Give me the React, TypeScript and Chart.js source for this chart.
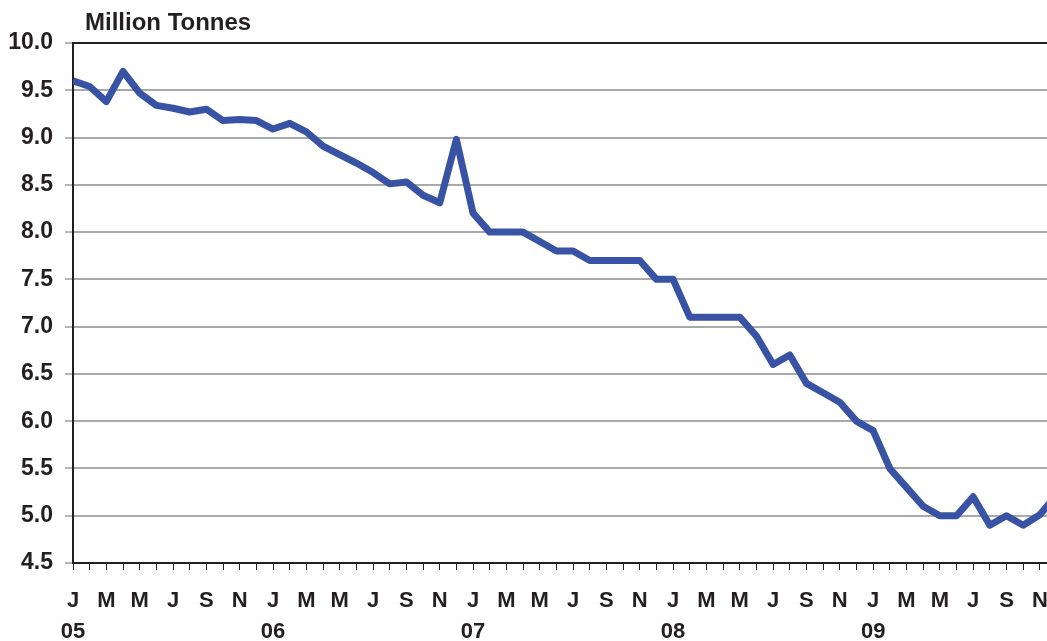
import React, { useEffect, useRef } from "react";
import { Chart, registerables } from "chart.js";

Chart.register(...registerables);

const monthLetters = ["J", "F", "M", "A", "M", "J", "J", "A", "S", "O", "N", "D"];
const yearLabels = ["05", "06", "07", "08", "09"];
const titleText = "Million Tonnes";

// Monthly values, Jan 2005 .. Dec 2009
const values2005 = [9.6, 9.54, 9.38, 9.7, 9.47, 9.34, 9.31, 9.27, 9.3, 9.18, 9.19, 9.18];
const values2006 = [9.09, 9.15, 9.06, 8.91, 8.82, 8.73, 8.63, 8.51, 8.53, 8.39, 8.31, 8.98];
const values2007 = [8.2, 8.0, 8.0, 8.0, 7.9, 7.8, 7.8, 7.7, 7.7, 7.7, 7.7, 7.5];
const values2008 = [7.5, 7.1, 7.1, 7.1, 7.1, 6.9, 6.6, 6.7, 6.4, 6.3, 6.2, 6.0];
const values2009 = [5.9, 5.5, 5.3, 5.1, 5.0, 5.0, 5.2, 4.9, 5.0, 4.9, 5.01, 5.22];

const yTicks = [4.5, 5.0, 5.5, 6.0, 6.5, 7.0, 7.5, 8.0, 8.5, 9.0, 9.5, 10.0];

const W = 1047;
const H = 641;
const FONT = '"Liberation Sans", Arial, Helvetica, sans-serif';
const TEXT = "#231f20";

export default function App() {
  const ref = useRef<HTMLCanvasElement | null>(null);

  useEffect(() => {
    const all = [...values2005, ...values2006, ...values2007, ...values2008, ...values2009];
    const data = all.map((v, i) => ({ x: i, y: v }));

    const titlePlugin = {
      id: "titleText",
      afterDraw(chart: any) {
        const ctx = chart.ctx;
        ctx.save();
        ctx.font = `bold 24px ${FONT}`;
        ctx.fillStyle = TEXT;
        ctx.textAlign = "left";
        ctx.textBaseline = "alphabetic";
        ctx.fillText(titleText, 85, 30);
        ctx.restore();
      },
    };

    const chart = new Chart(ref.current as HTMLCanvasElement, {
      type: "line",
      data: {
        datasets: [
          {
            data,
            borderColor: "#3953a4",
            borderWidth: 7,
            pointRadius: 0,
            tension: 0,
            fill: false,
            borderJoinStyle: "round",
          } as any,
        ],
      },
      options: {
        responsive: false,
        animation: false,
        layout: { padding: { top: 43, left: 0, right: 0, bottom: 0 } },
        plugins: { legend: { display: false }, tooltip: { enabled: false }, title: { display: false } },
        scales: {
          x: {
            type: "linear",
            min: 0,
            max: 58.43,
            afterBuildTicks(scale: any) {
              const t = [];
              for (let i = 0; i <= 58; i++) t.push({ value: i });
              scale.ticks = t;
            },
            afterFit(scale: any) {
              scale.height = 78;
              scale.paddingLeft = 0;
              scale.paddingRight = 0;
            },
            border: { display: true, color: TEXT, width: 2 },
            grid: {
              drawOnChartArea: false,
              drawTicks: true,
              tickLength: 7,
              color: TEXT,
              tickColor: TEXT,
              tickWidth: 1,
            },
            ticks: {
              autoSkip: false,
              maxRotation: 0,
              minRotation: 0,
              padding: 15,
              color: TEXT,
              font: { family: FONT, size: 22, weight: "bold", lineHeight: 1.43 },
              callback(value: any) {
                const i = Math.round(Number(value));
                if (i % 2 !== 0) return "";
                const m = monthLetters[i % 12];
                if (i % 12 === 0) return [m, yearLabels[Math.floor(i / 12)]];
                return m;
              },
            },
          },
          y: {
            type: "linear",
            min: 4.5,
            max: 10,
            afterBuildTicks(scale: any) {
              scale.ticks = yTicks.map((v) => ({ value: v }));
            },
            afterFit(scale: any) {
              scale.width = 73;
              scale.paddingTop = 0;
              scale.paddingBottom = 0;
            },
            border: { display: true, color: TEXT, width: 2 },
            grid: {
              drawOnChartArea: true,
              drawTicks: true,
              tickLength: 8,
              lineWidth: 2,
              color: (ctx: any) => (ctx.tick && ctx.tick.value === 10 ? TEXT : "#a7a9ac"),
              tickColor: "#6d6e71",
              tickWidth: 1,
            },
            ticks: {
              padding: 12,
              color: TEXT,
              font: { family: FONT, size: 23, weight: "bold" },
              callback(value: any) {
                return Number(value).toFixed(1);
              },
            },
          },
        },
      },
      plugins: [titlePlugin],
    });

    return () => chart.destroy();
  }, []);

  return (
    <div style={{ position: "fixed", left: 0, top: 0, width: W, height: H, background: "#fff", overflow: "hidden" }}>
      <canvas ref={ref} width={W} height={H} style={{ display: "block", width: W, height: H }} />
    </div>
  );
}
